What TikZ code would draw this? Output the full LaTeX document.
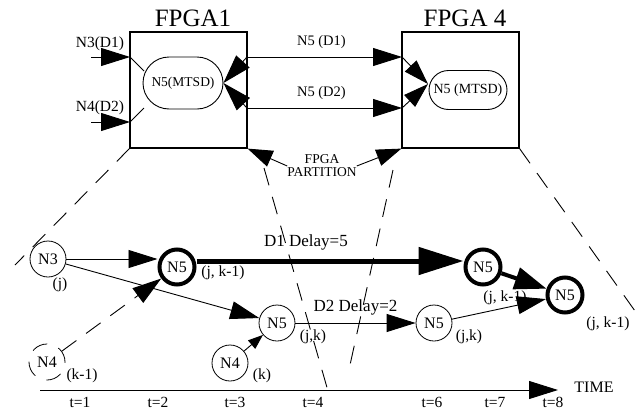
\documentclass[tikz,border=0pt]{standalone}
\usepackage{fontspec}
\setmainfont{Liberation Serif}
\usetikzlibrary{arrows.meta,shapes.misc}

\begin{document}
\begin{tikzpicture}[x=1pt,y=-1pt,
    txt/.style={inner sep=0pt,font={\fontsize{15.5}{16}\selectfont}},
    fpga/.style={draw,line width=1.2pt,minimum width=117pt,minimum height=116pt,inner sep=0pt},
    mtsd/.style={draw,rounded rectangle,line width=0.9pt,inner sep=0pt,font={\fontsize{13.5}{14}\selectfont}},
    vtx/.style={draw,circle,line width=0.8pt,minimum size=36pt,inner sep=0pt,font={\fontsize{16}{17}\selectfont}},
    hot/.style={vtx,line width=4pt,minimum size=35pt},
    big/.style={line width=0.9pt,-{Triangle[length=29pt,width=18pt]}},
    small/.style={line width=0.9pt,-{Triangle[length=15pt,width=11pt]}},
    huge/.style={line width=5pt,-{Triangle[length=45pt,width=27pt]}},
    zoomline/.style={line width=0.9pt,dash pattern=on 18pt off 12pt}]
\useasboundingbox (0,0) rectangle (641,410);

% ---- upper half: the two FPGAs ----
\node[fpga] (fpga1) at (188.5,90) {};
\node[fpga] (fpga4) at (460.5,90) {};
\node[inner sep=0pt,font={\fontsize{25}{26}\selectfont}] (name1) at (193,18) {FPGA1};
\node[inner sep=0pt,font={\fontsize{25}{26}\selectfont}] (name4) at (465,18) {FPGA 4};

\node[mtsd,minimum width=80pt,minimum height=52pt] (mtsd1) at (183,83) {N5(MTSD)};
\node[mtsd,minimum width=78pt,minimum height=39pt,font={\fontsize{14}{15}\selectfont}] (mtsd4) at (468,90) {N5 (MTSD)};

% pins on the box edges
\coordinate (a1) at (130,57);
\coordinate (a2) at (130,122);
\coordinate (b1) at (247,57);
\coordinate (b2) at (247,108);
\coordinate (c1) at (402,57);
\coordinate (c2) at (402,108);
\coordinate (in1) at (91,57);
\coordinate (in2) at (91,122);
\coordinate (s1) at (144,71);
\coordinate (s2) at (144,108);
\coordinate (m4) at (428,84);

% inputs of FPGA1
\node[txt] (l31) at (100,44) {N3(D1)};
\node[txt] (l42) at (100,108) {N4(D2)};
\draw[big] (in1) -- (a1);
\draw[big] (in2) -- (a2);
\draw[line width=0.9pt] (a1) -- (s1);
\draw[line width=0.9pt] (a2) -- (s2);
\draw[big] (b1) -- (mtsd1.east);
\draw[big] (b2) -- (mtsd1.east);

% nets between the FPGAs
\draw[big] (b1) -- (c1) node[txt,font={\fontsize{14.5}{15}\selectfont},pos=0.48,above=8pt] (n5d1) {N5 (D1)};
\draw[big] (b2) -- (c2) node[txt,font={\fontsize{14.5}{15}\selectfont},pos=0.48,above=8pt] (n5d2) {N5 (D2)};
\draw[line width=0.9pt,-{Triangle[length=25pt,width=16pt]}] (c1) -- (m4);
\draw[line width=0.9pt,-{Triangle[length=25pt,width=16pt]}] (c2) -- (m4);

% partition
\node[txt,align=center,font={\fontsize{13.5}{13}\selectfont}] (part) at (322,166) {FPGA\\PARTITION};
\draw[line width=0.9pt,-{Triangle[length=25pt,width=17pt]}] (part.west) -- (fpga1.south east);
\draw[line width=0.9pt,-{Triangle[length=25pt,width=17pt]}] (part.east) -- (fpga4.south west);

% ---- lower half: time steps ----
\node[vtx] (n3) at (48,259) {N3};
\node[hot] (n5a) at (177,267) {N5};
\node[vtx] (n5b) at (277,323) {N5};
\node[vtx] (n4b) at (230,363) {N4};
\node[vtx,dashed,dash pattern=on 16pt off 12pt] (n4a) at (47,362) {N4};
\node[vtx] (n5c) at (434,323) {N5};
\node[hot] (n5d) at (483,267) {N5};
\node[hot] (n5e) at (565,295) {N5};

\node[txt] (jl) at (60,285) {(j)};
\node[txt] (k1l) at (82,376) {(k-1)};
\node[txt] (kl) at (262,376) {(k)};
\node[txt] (jk1a) at (223,273) {(j, k-1)};
\node[txt] (jka) at (313,337) {(j,k)};
\node[txt] (jkb) at (469,337) {(j,k)};
\node[txt] (jk1b) at (505,298) {(j, k-1)};
\node[txt] (jk1c) at (608,324) {(j, k-1)};

\draw[big] (n3.east) -- (n3.east -| n5a.west);
\draw[big] (n3) -- (n5b);
\draw[big,dashed,dash pattern=on 18pt off 12pt] (n4a) -- (n5a);
\draw[small] (n4b) -- (n5b);
\draw[huge] ([yshift=6pt]n5a.east) -- ([yshift=6pt]n5d.west)
    node[txt,font={\fontsize{17}{18}\selectfont},pos=0.41,above=8pt] (d1) {D1 Delay=5};
\draw[big] (n5b) -- (n5c) node[txt,font={\fontsize{17}{18}\selectfont},midway,above=7pt] (d2) {D2 Delay=2};
\draw[big] (n5c) -- (n5e);
\draw[line width=4pt,-{Triangle[length=32pt,width=22pt]}] (n5d) -- (n5e);

% zoom lines from the boxes
\draw[zoomline] (fpga1.south west) -- (15,265);
\draw[zoomline] (264,168) -- (330,398);
\draw[zoomline] (393,170) -- (350,365);
\draw[zoomline] (fpga4.south east) -- (640,318);

% time axis
\coordinate (t0) at (40,390);
\coordinate (tend) at (558,390);
\draw[big] (t0) -- (tend);
\node[inner sep=0pt,font={\fontsize{16}{17}\selectfont}] (time) at (594,387) {TIME};
\foreach \x/\t in {80/1,158/2,235/3,313/4,432/6,495/7,553/8}
    \node[txt] (tick\t) at (\x,402) {t=\t};
\end{tikzpicture}
\end{document}
